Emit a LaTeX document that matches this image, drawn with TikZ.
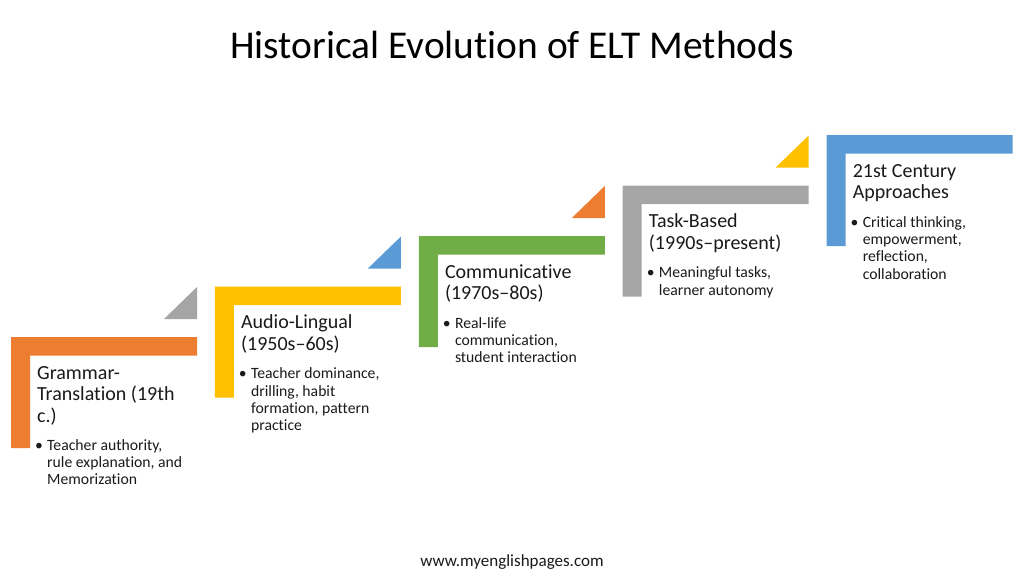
\documentclass[tikz,border=0pt]{standalone}
\usepackage{fontspec}
\setmainfont{Carlito}[Ligatures=NoCommon]
\definecolor{cOrange}{HTML}{ED7D31}
\definecolor{cYellow}{HTML}{FFC000}
\definecolor{cGreen}{HTML}{70AD47}
\definecolor{cGray}{HTML}{A5A5A5}
\definecolor{cBlue}{HTML}{5B9BD5}
\definecolor{txt}{HTML}{1A1A1A}
\tikzset{
  head/.style={anchor=north west, inner sep=0pt, align=left, font=\fontsize{20}{21.5}\selectfont, text=txt},
  btext/.style={anchor=north west, inner sep=0pt, align=left, font=\fontsize{15.7}{17.3}\selectfont, text=txt},
  bdot/.style={anchor=base, inner sep=0pt, font=\fontsize{15.7}{17.3}\selectfont, text=txt},
  titlestyle/.style={anchor=base, inner sep=0pt, font=\fontsize{39.4}{48}\selectfont, text=black},
  footstyle/.style={anchor=base, inner sep=0pt, font=\fontsize{17}{20}\selectfont, text=txt},
}
\begin{document}
\begin{tikzpicture}[x=1pt,y=-1pt]
\useasboundingbox[fill=white] (0,0) rectangle (1024,576);
% L-shaped steps
\foreach \i/\c in {0/cOrange,1/cYellow,2/cGreen,3/cGray,4/cBlue}{
  \pgfmathsetmacro\L{11+203.9*\i}
  \pgfmathsetmacro\T{337-50.5*\i}
  \fill[\c] (\L,\T) -- ++(186,0) -- ++(0,18.5) -- ++(-167,0) -- ++(0,92.5) -- ++(-19,0) -- cycle;
}
% triangles
\foreach \i/\c in {0/cGray,1/cBlue,2/cOrange,3/cYellow}{
  \pgfmathsetmacro\L{11+203.9*\i}
  \pgfmathsetmacro\T{337-50.5*\i}
  \fill[\c] (\L+153,\T-18) -- (\L+186,\T-18) -- (\L+186,\T-50) -- cycle;
}
% title and footer
\node[titlestyle] (title) at (512,58) {Historical Evolution of ELT Methods};
\node[footstyle] (foot) at (512,566) {www.myenglishpages.com};
% step 1 (L=11, T=337)
\node[head] (h1) at (37,364) {\strut Grammar-\\Translation (19th\\c.)};
\node[bdot] (d1) at (39,450) {•};
\node[btext] (b1) at (47,437.9) {\strut Teacher authority,\\rule explanation, and\\Memorization};
% step 2 (L=214.9, T=286.5)
\node[head] (h2) at (240.9,313.5) {\strut Audio-Lingual\\(1950s–60s)};
\node[bdot] (d2) at (242.9,378.5) {•};
\node[btext] (b2) at (250.9,366.4) {\strut Teacher dominance,\\drilling, habit\\formation, pattern\\practice};
% step 3 (L=418.8, T=236)
\node[head] (h3) at (444.8,263) {\strut Communicative\\(1970s–80s)};
\node[bdot] (d3) at (446.8,328) {•};
\node[btext] (b3) at (454.8,315.9) {\strut Real-life\\communication,\\student interaction};
% step 4 (L=622.7, T=185.5)
\node[head] (h4) at (648.7,212.5) {\strut Task-Based\\(1990s–present)};
\node[bdot] (d4) at (650.7,277.5) {•};
\node[btext] (b4) at (658.7,265.4) {\strut Meaningful tasks,\\learner autonomy};
% step 5 (L=826.6, T=135)
\node[head] (h5) at (852.6,162) {\strut 21st Century\\Approaches};
\node[bdot] (d5) at (854.6,227) {•};
\node[btext] (b5) at (862.6,214.9) {\strut Critical thinking,\\empowerment,\\reflection,\\collaboration};
\end{tikzpicture}
\end{document}
